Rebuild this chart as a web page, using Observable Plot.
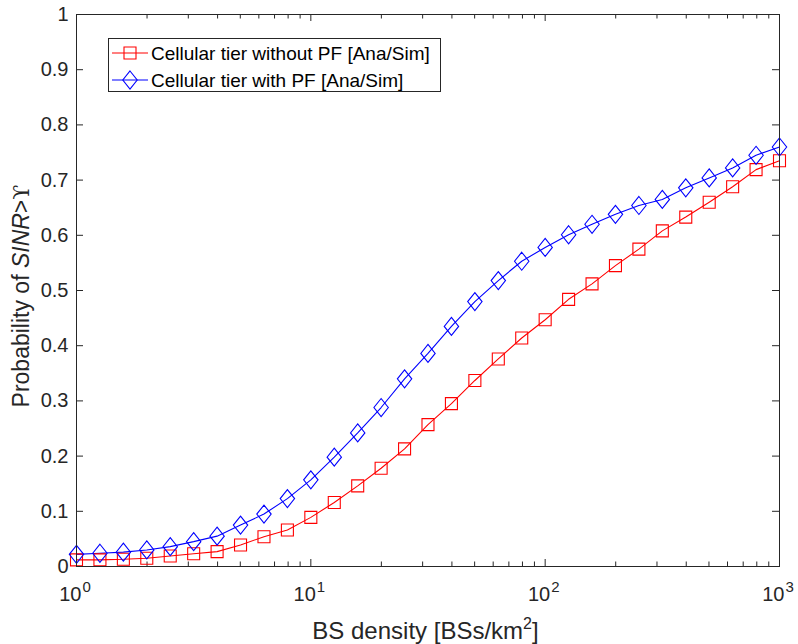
<!DOCTYPE html>
<html><head><meta charset="utf-8">
<script src="https://cdn.jsdelivr.net/npm/d3@7"></script>
<script src="https://cdn.jsdelivr.net/npm/@observablehq/plot@0.6"></script>
<style>
body{margin:0;background:#fff}
#chart svg{display:block}
</style>
</head><body><div id="chart"></div>
<script>
// BS density [BSs/km^2] sample points
const density = [1, 1.259, 1.585, 1.995, 2.512, 3.162, 3.981, 5.012, 6.310, 7.943,
  10, 12.59, 15.85, 19.95, 25.12, 31.62, 39.81, 50.12, 63.10, 79.43,
  100, 125.9, 158.5, 199.5, 251.2, 316.2, 398.1, 501.2, 631.0, 794.3, 1000];
const withoutPF = [0.012, 0.012, 0.013, 0.015, 0.019, 0.023, 0.027, 0.039, 0.054, 0.066,
  0.089, 0.116, 0.146, 0.178, 0.213, 0.257, 0.295, 0.337, 0.376, 0.414,
  0.447, 0.484, 0.512, 0.545, 0.575, 0.608, 0.633, 0.660, 0.688, 0.719, 0.735];
const withPF = [0.022, 0.024, 0.026, 0.030, 0.036, 0.045, 0.055, 0.075, 0.095, 0.123,
  0.157, 0.198, 0.242, 0.288, 0.340, 0.386, 0.435, 0.480, 0.518, 0.553,
  0.578, 0.601, 0.620, 0.638, 0.654, 0.665, 0.686, 0.704, 0.722, 0.745, 0.760];
const seriesNames = ["Cellular tier without PF [Ana/Sim]", "Cellular tier with PF [Ana/Sim]"];
const seriesColors = ["#ff0000", "#0000ff"];
const yTicks = [0, 0.1, 0.2, 0.3, 0.4, 0.5, 0.6, 0.7, 0.8, 0.9, 1];
const yTickLabels = ["0", "0.1", "0.2", "0.3", "0.4", "0.5", "0.6", "0.7", "0.8", "0.9", "1"];
const xMajor = [1, 10, 100, 1000];
const xExponents = ["0", "1", "2", "3"];
const xMinor = [2, 3, 4, 5, 6, 7, 8, 9, 20, 30, 40, 50, 60, 70, 80, 90, 200, 300, 400, 500, 600, 700, 800, 900];

const rows = [];
density.forEach((d, i) => {
  rows.push({x: d, y: withoutPF[i], s: seriesNames[0]});
  rows.push({x: d, y: withPF[i], s: seriesNames[1]});
});
const rowsA = rows.filter(r => r.s === seriesNames[0]);
const rowsB = rows.filter(r => r.s === seriesNames[1]);

// custom marker shapes (MATLAB-like)
const squareSym = {draw(ctx, size) { const r = Math.sqrt(size / Math.PI); ctx.moveTo(-r, -r); ctx.lineTo(r, -r); ctx.lineTo(r, r); ctx.lineTo(-r, r); ctx.closePath(); }};
const diamondSym = {draw(ctx, size) { const r = Math.sqrt(size / Math.PI); const w = r * 1.2, h = r * 1.5; ctx.moveTo(0, -h); ctx.lineTo(w, 0); ctx.lineTo(0, h); ctx.lineTo(-w, 0); ctx.closePath(); }};

const W = 798, H = 644, mL = 76, mR = 19, mT = 14, mB = 78;
const pw = W - mL - mR, ph = H - mT - mB;
const axisColor = "#262626";
const font = "'Liberation Sans', Arial, Helvetica, sans-serif";

const chart = Plot.plot({
  width: W, height: H,
  marginLeft: mL, marginRight: mR, marginTop: mT, marginBottom: mB,
  style: {fontFamily: font, background: "#fff", color: axisColor},
  x: {type: "log", domain: [1, 1000]},
  y: {domain: [0, 1]},
  color: {domain: seriesNames, range: seriesColors},
  marks: [
    // ticks (inward, all four sides)
    Plot.ruleY(yTicks, {y: d => d, insetRight: pw - 7, stroke: axisColor, strokeWidth: 1}),
    Plot.ruleY(yTicks, {y: d => d, insetLeft: pw - 7, stroke: axisColor, strokeWidth: 1}),
    Plot.ruleX(xMajor, {x: d => d, insetTop: ph - 7, stroke: axisColor, strokeWidth: 1}),
    Plot.ruleX(xMajor, {x: d => d, insetBottom: ph - 7, stroke: axisColor, strokeWidth: 1}),
    Plot.ruleX(xMinor, {x: d => d, insetTop: ph - 4.5, stroke: axisColor, strokeWidth: 1}),
    Plot.ruleX(xMinor, {x: d => d, insetBottom: ph - 4.5, stroke: axisColor, strokeWidth: 1}),
    // data
    Plot.line(rows, {x: "x", y: "y", z: "s", stroke: "s", strokeWidth: 1.1}),
    Plot.dot(rowsA, {x: "x", y: "y", stroke: "s", symbol: squareSym, r: 6, strokeWidth: 1.1, fill: "none"}),
    Plot.dot(rowsB, {x: "x", y: "y", stroke: "s", symbol: diamondSym, r: 6, strokeWidth: 1.1, fill: "none"}),
    // box
    Plot.frame({stroke: axisColor, strokeWidth: 1}),
    // y tick labels
    Plot.axisY(yTicks, {tickSize: 0, tickPadding: 8, tickFormat: (d, i) => yTickLabels[i], fontSize: 20, fill: axisColor, label: null}),
    // x tick labels 10^k
    Plot.text(xMajor, {x: d => d, frameAnchor: "bottom", text: () => "10", textAnchor: "end", lineAnchor: "bottom", dx: 5, dy: 34, fontSize: 20, fill: axisColor}),
    Plot.text(xMajor, {x: d => d, frameAnchor: "bottom", text: (d, i) => xExponents[i], textAnchor: "start", lineAnchor: "bottom", dx: 6, dy: 25, fontSize: 15, fill: axisColor}),
    Plot.axisX([], {label: null})
  ]
});
document.getElementById("chart").appendChild(chart);

const svg = d3.select(chart);
// axis labels with rich text
const xl = svg.append("text")
  .attr("x", mL + pw / 2 - 2).attr("y", 639)
  .attr("text-anchor", "middle")
  .attr("font-family", font).attr("font-size", 24).attr("fill", axisColor);
xl.append("tspan").text("BS density [BSs/km");
xl.append("tspan").attr("font-size", 16).attr("dy", -10).text("2");
xl.append("tspan").attr("dy", 10).text("]");

const yl = svg.append("text")
  .attr("transform", `translate(29,${mT + ph / 2 + 6}) rotate(-90)`)
  .attr("text-anchor", "middle")
  .attr("font-family", font).attr("font-size", 23).attr("fill", axisColor);
yl.append("tspan").text("Probability of ");
yl.append("tspan").attr("font-style", "italic").text("SINR");
yl.append("tspan").text(">");
yl.append("tspan").attr("font-family", "'DejaVu Serif', serif").attr("font-size", 22).text("ϒ");

// legend
const lg = svg.append("g").attr("font-family", font).attr("font-size", 19).attr("text-anchor", "start");
lg.append("rect").attr("x", 108.5).attr("y", 38.5).attr("width", 332).attr("height", 53)
  .attr("fill", "#fff").attr("stroke", axisColor).attr("stroke-width", 1);
const syms = [squareSym, diamondSym];
seriesNames.forEach((name, i) => {
  const cy = 53 + i * 27;
  lg.append("line").attr("x1", 112).attr("x2", 148).attr("y1", cy).attr("y2", cy)
    .attr("stroke", seriesColors[i]).attr("stroke-width", 1.1);
  lg.append("path").attr("transform", `translate(130,${cy})`)
    .attr("d", d3.symbol(syms[i], Math.PI * 36)())
    .attr("fill", "none").attr("stroke", seriesColors[i]).attr("stroke-width", 1.1);
  lg.append("text").attr("x", 151).attr("y", cy).attr("dy", "0.35em").attr("text-anchor", "start").attr("fill", "#000").text(name);
});
</script>
</body></html>
